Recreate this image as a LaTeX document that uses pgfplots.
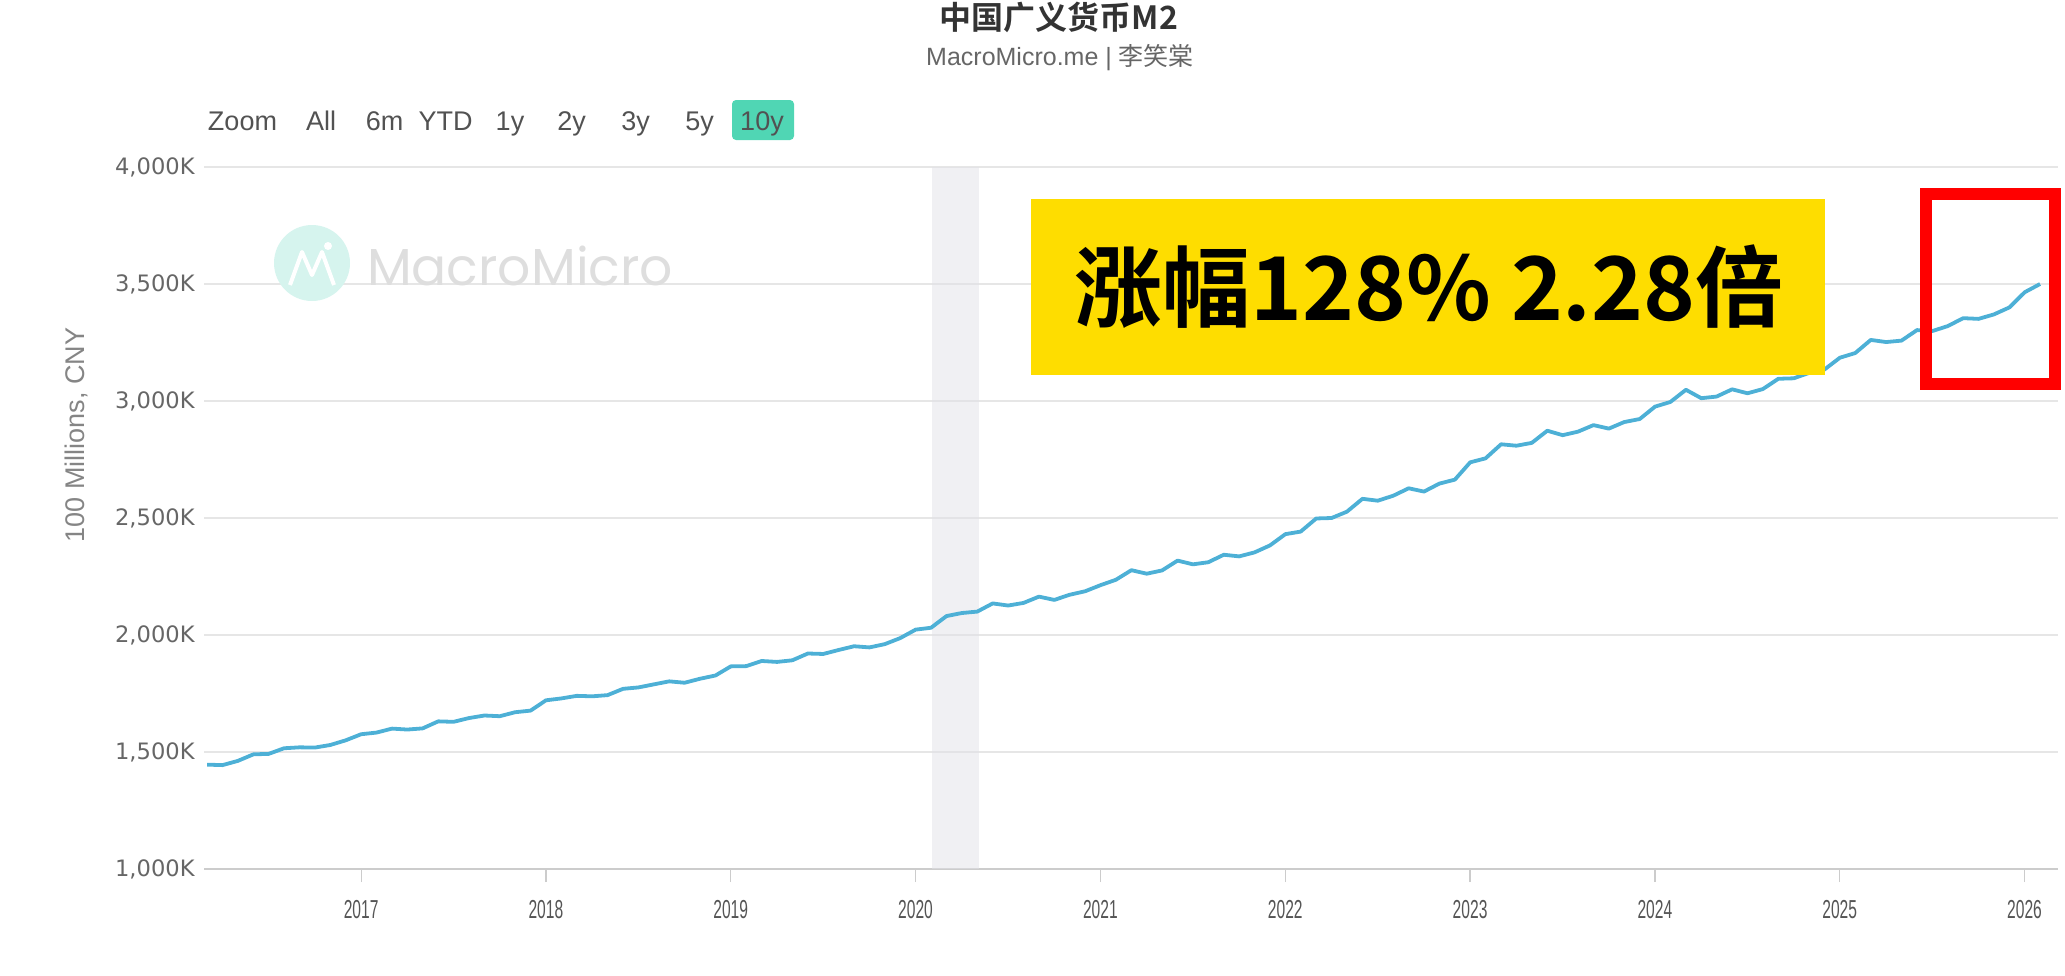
\documentclass[border=0pt]{standalone}
\usepackage{fontspec}
\setmainfont{Liberation Sans}
\newfontfamily\cjk{Noto Sans CJK SC}[BoldFont={Noto Sans CJK SC Bold}]
\newfontfamily\dejavu{DejaVu Sans}
\newfontfamily\popp{Poppins}
\usepackage{graphicx}
\usepackage{pgfplots}
\usepackage{pgfplotstable}
\pgfplotsset{compat=1.18}

\definecolor{mmline}{RGB}{77,176,214}
\definecolor{gridc}{RGB}{230,230,230}
\definecolor{axisc}{RGB}{204,204,204}
\definecolor{labc}{RGB}{102,102,102}
\definecolor{xlabc}{RGB}{85,85,85}
\definecolor{titc}{RGB}{51,51,51}
\definecolor{bandc}{RGB}{225,225,231}
\definecolor{btnc}{RGB}{80,214,180}
\definecolor{yel}{RGB}{254,221,0}
\definecolor{wmteal}{RGB}{214,244,238}
\definecolor{wmtext}{RGB}{222,222,222}

\newcommand{\nw}[1]{\scalebox{0.6}[1]{#1}}

\pgfplotstableread{
x y
2016.167 1446
2016.250 1444
2016.333 1462
2016.417 1490
2016.500 1492
2016.583 1516
2016.667 1520
2016.750 1519
2016.833 1530
2016.917 1550
2017.000 1576
2017.083 1583
2017.167 1600
2017.250 1596
2017.333 1601
2017.417 1631
2017.500 1629
2017.583 1645
2017.667 1656
2017.750 1653
2017.833 1670
2017.917 1677
2018.000 1721
2018.083 1729
2018.167 1740
2018.250 1738
2018.333 1743
2018.417 1770
2018.500 1776
2018.583 1789
2018.667 1802
2018.750 1796
2018.833 1813
2018.917 1827
2019.000 1866
2019.083 1867
2019.167 1889
2019.250 1885
2019.333 1892
2019.417 1921
2019.500 1919
2019.583 1936
2019.667 1952
2019.750 1947
2019.833 1961
2019.917 1987
2020.000 2023
2020.083 2031
2020.167 2081
2020.250 2094
2020.333 2100
2020.417 2135
2020.500 2126
2020.583 2137
2020.667 2164
2020.750 2150
2020.833 2172
2020.917 2187
2021.000 2213
2021.083 2236
2021.167 2277
2021.250 2262
2021.333 2276
2021.417 2318
2021.500 2302
2021.583 2311
2021.667 2343
2021.750 2336
2021.833 2353
2021.917 2383
2022.000 2431
2022.083 2442
2022.167 2498
2022.250 2500
2022.333 2527
2022.417 2582
2022.500 2574
2022.583 2595
2022.667 2627
2022.750 2613
2022.833 2647
2022.917 2664
2023.000 2738
2023.083 2755
2023.167 2815
2023.250 2809
2023.333 2821
2023.417 2873
2023.500 2854
2023.583 2869
2023.667 2897
2023.750 2882
2023.833 2910
2023.917 2923
2024.000 2976
2024.083 2996
2024.167 3048
2024.250 3012
2024.333 3019
2024.417 3050
2024.500 3033
2024.583 3051
2024.667 3095
2024.750 3097
2024.833 3120
2024.917 3135
2025.000 3185
2025.083 3205
2025.167 3261
2025.250 3252
2025.333 3258
2025.417 3303
2025.500 3299
2025.583 3320
2025.667 3354
2025.750 3351
2025.833 3370
2025.917 3400
2026.000 3465
2026.083 3500
}\mtwo

\begin{document}
\begin{tikzpicture}
\path[use as bounding box] (0pt,0pt) rectangle (1032.5pt,-487.5pt);

\begin{axis}[
  at={(102pt,-434.5pt)}, anchor=south west,
  scale only axis, width=927pt, height=351pt,
  xmin=2016.15, xmax=2026.18, ymin=1000, ymax=4000,
  separate axis lines,
  axis x line*=bottom, axis y line*=left,
  y axis line style={draw=none},
  x axis line style={draw=axisc, line width=1pt},
  ytick={1000,1500,...,4000},
  yticklabels={{1,000K},{1,500K},{2,000K},{2,500K},{3,000K},{3,500K},{4,000K}},
  ymajorgrids, grid style={draw=gridc, line width=0.7pt},
  xtick={2017,...,2026},
  xticklabels={\nw{2017},\nw{2018},\nw{2019},\nw{2020},\nw{2021},\nw{2022},\nw{2023},\nw{2024},\nw{2025},\nw{2026}},
  tick align=outside,
  major tick length=6.5pt,
  x tick style={draw=axisc, line width=0.6pt},
  y tick style={draw=none},
  yticklabel style={anchor=east, inner sep=0pt, xshift=2pt, font=\dejavu\fontsize{11.3}{13}\selectfont, text=labc},
  xticklabel style={anchor=north, inner sep=0pt, yshift=-9pt, font=\fontsize{13}{15}\selectfont, text=xlabc},
]
\fill[bandc, fill opacity=0.5] (axis cs:2020.09,1000) rectangle (axis cs:2020.34,4000);
\addplot[mmline, line width=1.9pt, line join=round, mark=none] table[x=x, y=y] {\mtwo};
\end{axis}

\begin{scope}[x=0.5pt,y=-0.5pt]
% title and subtitle
\node[font=\cjk\bfseries\fontsize{16}{19}\selectfont, text=titc] at (1059,17) {中国广义货币M2};
\node[font=\fontsize{12.5}{15}\selectfont, text=labc] at (1060,58) {MacroMicro.me | {\cjk 李笑棠}};

% range selector
\fill[btnc, rounded corners=2pt] (732,100) rectangle (794,140);
\begin{scope}[every node/.style={anchor=base, font=\fontsize{13.5}{16}\selectfont, text=titc!85!white}]
\node at (242.5,130) {Zoom};
\node at (321,130) {All};
\node at (384.5,130) {6m};
\node at (445.5,130) {YTD};
\node at (510,130) {1y};
\node at (571.5,130) {2y};
\node at (635.5,130) {3y};
\node at (699.5,130) {5y};
\node at (762,130) {10y};
\end{scope}

% y axis title
\node[rotate=90, font=\fontsize{13.5}{16}\selectfont, text=labc!80!white] at (76,435) {100 Millions, CNY};

% watermark
\fill[wmteal] (312,263) circle (38);
\draw[white, line width=2pt, line join=round] (290,285) -- (302,252) -- (312,275) -- (322,252) -- (334,285);
\fill[white] (328,246) circle (4);
\node[anchor=west, font=\popp\fontsize{26}{30}\selectfont, text=wmtext] at (360,266) {MacroMicro};

% yellow annotation
\fill[yel] (1031,199) rectangle (1825,375);
\node[font=\cjk\bfseries\fontsize{44}{52}\selectfont, text=black] at (1429,287) {涨幅128\% 2.28倍};

% red box
\draw[red, line width=6pt] (1926,194) rectangle (2055,384);
\end{scope}
\end{tikzpicture}
\end{document}
